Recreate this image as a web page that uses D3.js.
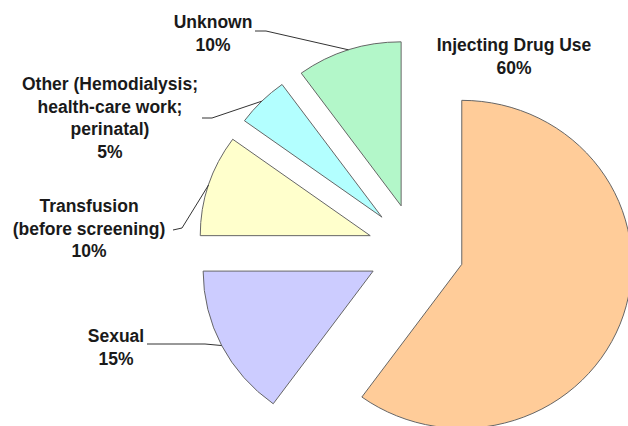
<!DOCTYPE html>
<html>
<head>
<meta charset="utf-8">
<script src="https://cdn.jsdelivr.net/npm/d3@7"></script>
<style>
html,body{margin:0;padding:0;background:#fff;}
svg{display:block;}
text{font-family:"Liberation Sans",Arial,sans-serif;font-weight:bold;fill:#1a1a1a;}
</style>
</head>
<body>
<svg id="chart" width="628" height="426"></svg>
<script>
// ---- data ----
const categories = ["Injecting Drug Use", "Sexual", "Transfusion (before screening)", "Other (Hemodialysis; health-care work; perinatal)", "Unknown"];
const values = [60, 15, 10, 5, 10];
const labelLines = [
  ["Injecting Drug Use"],
  ["Sexual"],
  ["Transfusion", "(before screening)"],
  ["Other (Hemodialysis;", "health-care work;", "perinatal)"],
  ["Unknown"]
];
const percentLabels = ["60%", "15%", "10%", "5%", "10%"];

// ---- styling / layout ----
const colors = ["#FFCC99", "#CCCCFF", "#FFFFCC", "#B3FFFF", "#B3F7C9"];
const cx = 416, cy = 250, radius = 166, explode = 47, sx = 1.024, sy = 0.988;
const labelPos = [
  {x: 514, y: 51, line: null},
  {x: 116, y: 342, line: [[147, 344], [205, 344]]},
  {x: 89, y: 212, line: [[173, 230], [182, 228]]},
  {x: 110, y: 90, line: [[202, 118], [212, 118]]},
  {x: 213, y: 28, line: [[255, 31], [266, 31]]}
];
const lineH = 22.5;

const svg = d3.select("#chart");
const pie = d3.pie().sort(null).value(d => d)(values);
const arc = d3.arc().innerRadius(0).outerRadius(radius);

const g = svg.append("g").attr("transform", `translate(${cx},${cy}) scale(${sx},${sy})`);

pie.forEach((p, i) => {
  const mid = (p.startAngle + p.endAngle) / 2;
  const ox = Math.sin(mid) * explode, oy = -Math.cos(mid) * explode;
  g.append("path")
    .attr("d", arc(p))
    .attr("transform", `translate(${ox},${oy})`)
    .attr("fill", colors[i])
    .attr("stroke", "#666")
    .attr("stroke-width", 1)
    .attr("vector-effect", "non-scaling-stroke");

  const lp = labelPos[i];
  if (lp.line) {
    const ax = cx + sx * (ox + Math.sin(mid) * radius);
    const ay = cy + sy * (oy - Math.cos(mid) * radius);
    const pts = lp.line.concat([[ax, ay]]);
    svg.append("path")
      .attr("d", d3.line()(pts))
      .attr("fill", "none")
      .attr("stroke", "#333")
      .attr("stroke-width", 1);
  }
  const lines = labelLines[i].concat([percentLabels[i]]);
  const t = svg.append("text")
    .attr("text-anchor", "middle")
    .attr("font-size", "17.5px");
  lines.forEach((s, k) => {
    t.append("tspan").attr("x", lp.x).attr("y", lp.y + k * lineH).text(s);
  });
});
</script>
</body>
</html>
